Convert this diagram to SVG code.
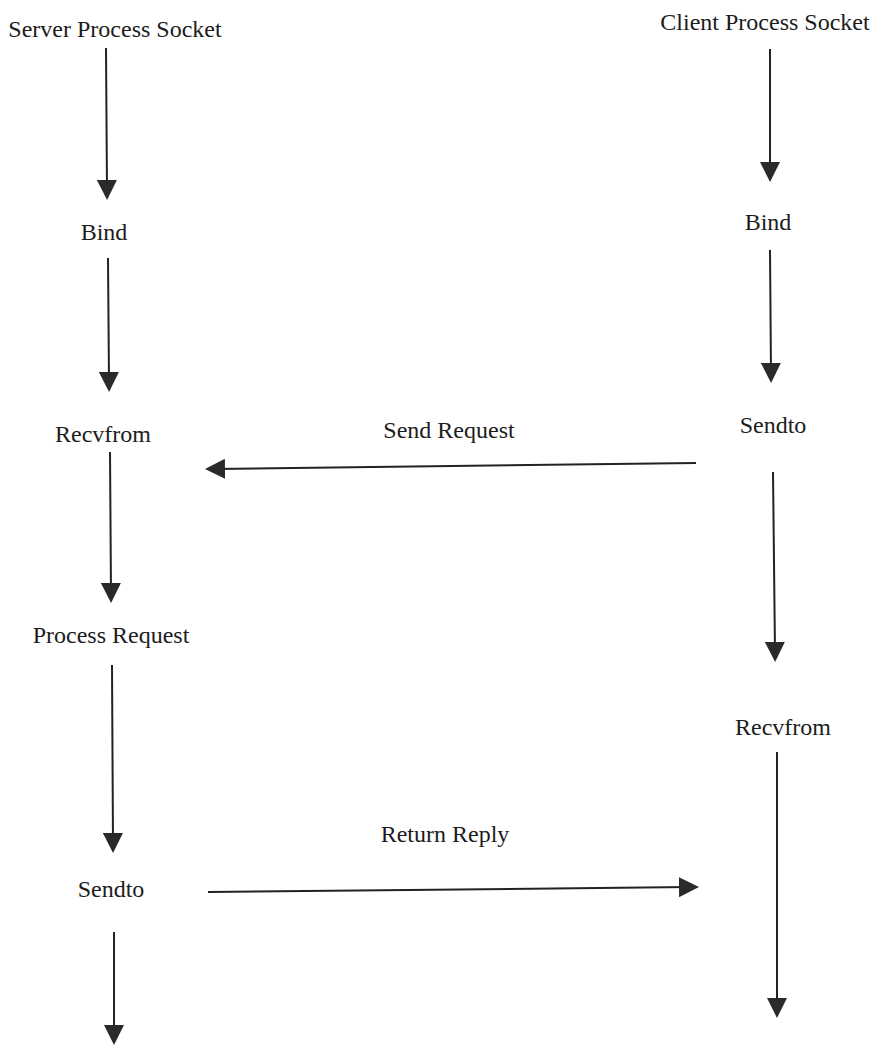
<svg xmlns="http://www.w3.org/2000/svg" width="877" height="1048" viewBox="0 0 877 1048">
  <style>
    .label { font-family: "Liberation Serif", "Times New Roman", serif; font-size: 24px; fill: #1c1c1c; text-anchor: middle; }
    .flow { stroke: #222; stroke-width: 2; fill: none; marker-end: url(#head); }
  </style>
  <defs>
    <!-- solid triangular head, 20x20, tip 10px past the line end -->
    <marker id="head" markerUnits="userSpaceOnUse" markerWidth="20" markerHeight="20" viewBox="0 0 20 20" refX="10" refY="10" orient="auto">
      <path d="M0,0 L20,10 L0,20 Z" fill="#2a2a2a"/>
    </marker>
  </defs>
  <rect width="877" height="1048" fill="#ffffff"/>

  <!-- server side -->
  <g id="server-socket"><text class="label" x="115" y="37">Server Process Socket</text></g>
  <g id="server-bind"><text class="label" x="104" y="240">Bind</text></g>
  <g id="server-recvfrom"><text class="label" x="103" y="442">Recvfrom</text></g>
  <g id="server-process"><text class="label" x="111" y="643">Process Request</text></g>
  <g id="server-sendto"><text class="label" x="111" y="897">Sendto</text></g>

  <!-- client side -->
  <g id="client-socket"><text class="label" x="765" y="30">Client Process Socket</text></g>
  <g id="client-bind"><text class="label" x="768" y="230">Bind</text></g>
  <g id="client-sendto"><text class="label" x="773" y="433">Sendto</text></g>
  <g id="client-recvfrom"><text class="label" x="783" y="735">Recvfrom</text></g>

  <!-- message labels -->
  <g id="send-request-label"><text class="label" x="449" y="438">Send Request</text></g>
  <g id="return-reply-label"><text class="label" x="445" y="842">Return Reply</text></g>

  <g id="connectors">
    <line class="flow" x1="106" y1="48" x2="107" y2="190"/>
    <line class="flow" x1="108" y1="258" x2="109" y2="382"/>
    <line class="flow" x1="110" y1="452" x2="111" y2="593"/>
    <line class="flow" x1="112" y1="665" x2="113" y2="843"/>
    <line class="flow" x1="114" y1="932" x2="114" y2="1035"/>

    <line class="flow" x1="770" y1="49" x2="770" y2="172"/>
    <line class="flow" x1="770" y1="250" x2="771" y2="373"/>
    <line class="flow" x1="773" y1="472" x2="775" y2="652"/>
    <line class="flow" x1="777" y1="752" x2="777" y2="1008"/>

    <line class="flow" x1="696" y1="463" x2="215" y2="468.9"/>
    <line class="flow" x1="208" y1="892" x2="689" y2="887.1"/>
  </g>
</svg>
